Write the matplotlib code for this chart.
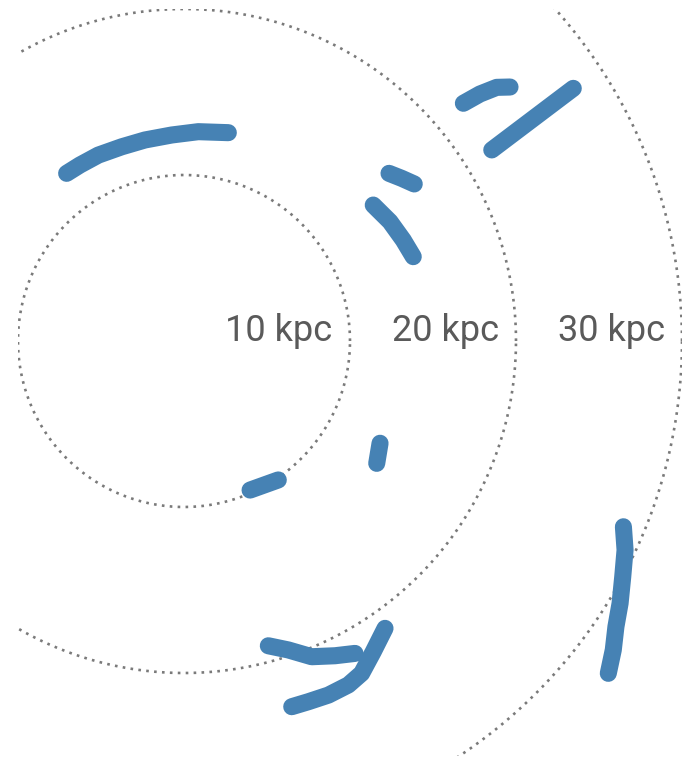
import matplotlib
matplotlib.use("Agg")
import matplotlib.pyplot as plt
import numpy as np

# Galactocentric rings (kpc)
ring_radii = [10, 20, 30]
ring_labels = ["10 kpc", "20 kpc", "30 kpc"]

# Stellar stream tracks, (x, y) in kpc
stream_a = [(-7.07, 10.10), (-6.27, 10.60), (-5.16, 11.20), (-3.75, 11.70),
            (-2.35, 12.11), (-0.74, 12.41), (0.86, 12.61), (2.67, 12.55)]
stream_b = [(16.83, 14.32), (17.83, 14.88), (18.84, 15.28), (19.64, 15.30)]
stream_c = [(18.54, 11.51), (23.45, 15.22)]
stream_d = [(12.35, 10.10), (13.11, 9.80), (13.87, 9.46)]
stream_e = [(11.40, 8.19), (12.41, 7.19), (13.21, 6.08), (13.81, 5.08)]
stream_f = [(3.98, -8.98), (5.68, -8.37)]
stream_g = [(11.81, -6.16), (11.61, -7.37)]
stream_h = [(5.08, -18.36), (6.28, -18.61), (7.69, -19.02), (9.10, -18.96), (10.30, -18.82)]
stream_i = [(12.11, -17.31), (11.40, -18.72), (10.70, -20.02), (9.90, -20.72),
            (8.70, -21.33), (7.49, -21.73), (6.49, -22.03)]
stream_j = [(26.47, -11.19), (26.57, -12.59), (26.43, -14.20), (26.27, -15.80),
            (26.02, -17.21), (25.86, -18.61), (25.56, -20.02)]

streams = [stream_a, stream_b, stream_c, stream_d, stream_e,
           stream_f, stream_g, stream_h, stream_i, stream_j]

fig = plt.figure(figsize=(6.83, 7.61), dpi=100)
ax = fig.add_axes([18 / 683, 5 / 761, 664 / 683, 747 / 761])
ax.set_xlim(-10, 30)
ax.set_ylim(-25, 20)
ax.set_aspect("equal")
ax.axis("off")

theta = np.linspace(0, 2 * np.pi, 1000)
for r in ring_radii:
    ax.plot(r * np.cos(theta), r * np.sin(theta), color="#7a7a7a",
            lw=1.9, linestyle=(0, (1, 2.0)), dash_capstyle="butt", zorder=1)

for s in streams:
    xs, ys = zip(*s)
    ax.plot(xs, ys, color="#4682b4", lw=12.3, solid_capstyle="round",
            solid_joinstyle="round", zorder=2)

for r, lab in zip(ring_radii, ring_labels):
    ax.text(r - 1.05, 0, lab, ha="right", va="baseline", fontsize=26,
            color="#5a5a5a", family="Roboto", zorder=3)

fig.savefig("out.png", dpi=100)
